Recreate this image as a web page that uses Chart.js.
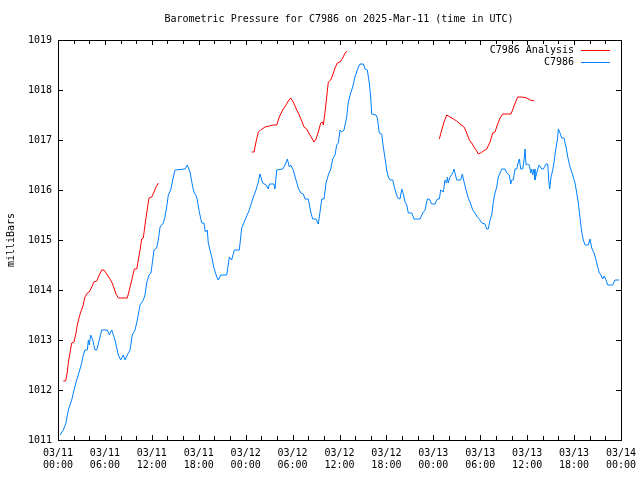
<!DOCTYPE html>
<html>
<head>
<meta charset="utf-8">
<script src="https://cdn.jsdelivr.net/npm/chart.js@4.4.1/dist/chart.umd.min.js"></script>
<style>
html,body{margin:0;padding:0;background:#fff;}
#wrap{width:640px;height:480px;position:relative;}
</style>
</head>
<body>
<div id="wrap"><canvas id="c" width="640" height="480"></canvas></div>
<script>
// Hours since 03/11 00:00 UTC
const observedHours = [0.26,0.68,1.02,1.32,1.75,2.05,2.39,2.6,3.03,3.24,3.45,3.75,3.88,4.0,4.18,4.44,4.73,4.95,5.28,5.59,6.31,6.56,6.87,7.29,7.71,8.02,8.35,8.57,8.86,9.21,9.5,9.85,10.14,10.49,10.91,11.13,11.34,11.64,11.89,12.06,12.28,12.62,12.83,13.05,13.47,13.68,13.9,14.11,14.41,14.67,14.96,16.24,16.54,16.88,17.23,17.39,17.74,18.07,18.38,18.67,18.84,19.09,19.22,19.66,19.95,20.3,20.5,20.81,21.58,21.91,22.21,22.55,23.19,23.49,23.92,24.47,24.77,24.98,25.32,25.62,25.83,26.18,26.6,26.9,27.02,27.62,27.75,27.97,28.74,29.03,29.33,29.58,29.76,30.09,30.44,30.73,31.04,31.37,31.59,32.01,32.32,32.57,32.99,33.29,33.51,33.73,34.02,34.28,34.57,34.88,35.13,35.43,35.64,35.85,36.07,36.28,36.58,36.71,36.92,37.13,37.43,37.69,37.98,38.28,38.53,38.62,39.05,39.26,39.56,39.81,39.99,40.12,40.67,40.84,41.09,41.4,41.6,41.82,42.04,42.24,42.46,42.81,43.01,43.23,43.45,43.74,43.96,44.16,44.38,44.6,44.8,45.24,45.53,46.3,46.64,46.94,47.23,47.49,47.79,48.22,48.51,48.77,48.94,49.28,49.49,49.71,49.79,49.92,50.13,50.48,50.65,50.77,50.99,51.5,51.71,51.93,52.18,52.47,52.78,53.04,53.33,53.63,53.88,54.19,54.61,54.83,55.03,55.25,55.47,55.67,55.89,56.11,56.31,56.53,56.75,57.17,57.39,57.72,57.9,58.03,58.23,58.45,58.67,58.87,59.0,59.18,59.43,59.6,59.73,59.86,60.02,60.28,60.46,60.58,60.71,60.88,61.0,61.22,61.43,61.55,61.86,62.07,62.41,62.63,62.76,62.88,63.05,63.27,63.44,63.66,63.86,63.99,64.2,64.42,64.71,64.97,65.19,65.48,65.83,66.12,66.34,66.54,66.76,66.98,67.18,67.4,67.82,68.04,68.26,68.55,68.81,69.02,69.23,69.44,69.66,69.86,70.08,70.3,70.94,71.23,71.78];
const observedPressure = [1011.1,1011.2,1011.34,1011.6,1011.8,1012.0,1012.2,1012.3,1012.54,1012.7,1012.8,1012.8,1013.0,1012.9,1013.1,1013.0,1012.8,1012.8,1013.0,1013.2,1013.2,1013.1,1013.2,1013.0,1012.7,1012.6,1012.7,1012.6,1012.7,1012.8,1013.1,1013.2,1013.4,1013.7,1013.8,1013.9,1014.14,1014.3,1014.34,1014.54,1014.8,1014.84,1015.0,1015.26,1015.34,1015.46,1015.66,1015.9,1016.0,1016.2,1016.4,1016.42,1016.5,1016.36,1016.06,1015.96,1015.86,1015.56,1015.34,1015.34,1015.16,1015.2,1014.94,1014.66,1014.44,1014.26,1014.2,1014.3,1014.3,1014.66,1014.6,1014.8,1014.8,1015.24,1015.4,1015.6,1015.76,1015.86,1016.0,1016.16,1016.32,1016.14,1016.1,1016.02,1016.12,1016.12,1016.02,1016.4,1016.42,1016.5,1016.62,1016.46,1016.5,1016.4,1016.2,1016.04,1015.94,1015.92,1015.82,1015.82,1015.56,1015.42,1015.42,1015.32,1015.56,1015.82,1015.82,1016.14,1016.3,1016.42,1016.62,1016.7,1016.9,1016.94,1017.2,1017.16,1017.2,1017.3,1017.46,1017.76,1017.94,1018.06,1018.26,1018.4,1018.5,1018.52,1018.52,1018.42,1018.4,1018.14,1017.86,1017.52,1017.5,1017.44,1017.14,1017.12,1016.86,1016.64,1016.4,1016.26,1016.2,1016.2,1016.06,1015.94,1015.84,1015.82,1016.02,1015.92,1015.76,1015.7,1015.54,1015.54,1015.42,1015.42,1015.54,1015.6,1015.82,1015.82,1015.72,1015.72,1015.82,1015.82,1016.0,1015.96,1016.2,1016.14,1016.26,1016.14,1016.26,1016.34,1016.42,1016.42,1016.2,1016.2,1016.32,1016.16,1016.0,1015.84,1015.72,1015.6,1015.54,1015.46,1015.42,1015.34,1015.32,1015.22,1015.22,1015.4,1015.5,1015.76,1015.94,1016.06,1016.26,1016.34,1016.42,1016.42,1016.34,1016.3,1016.12,1016.2,1016.2,1016.42,1016.42,1016.56,1016.62,1016.42,1016.42,1016.6,1016.82,1016.5,1016.52,1016.5,1016.34,1016.42,1016.3,1016.42,1016.2,1016.34,1016.46,1016.5,1016.42,1016.42,1016.52,1016.52,1016.2,1016.02,1016.26,1016.4,1016.56,1016.82,1017.0,1017.22,1017.14,1017.04,1017.04,1016.86,1016.66,1016.46,1016.3,1016.14,1015.94,1015.74,1015.44,1015.16,1015.0,1014.9,1014.9,1015.02,1014.84,1014.74,1014.6,1014.46,1014.34,1014.3,1014.22,1014.28,1014.2,1014.1,1014.1,1014.2,1014.2];

const analysisHours = [0.68,0.98,1.19,1.32,1.53,1.75,2.05,2.3,2.47,2.72,2.9,3.16,3.45,3.75,4.0,4.31,4.6,4.95,5.28,5.59,5.88,6.23,6.56,6.87,7.16,7.42,7.71,8.86,9.12,9.34,9.55,9.76,10.07,10.27,10.49,10.7,10.91,11.13,11.34,11.64,11.98,12.28,12.53,12.83,
  18.0,
  24.77,25.07,25.32,25.62,25.92,26.47,27.02,27.54,27.97,28.3,28.74,29.16,29.45,29.76,30.09,30.53,30.86,31.17,31.46,31.81,32.14,32.45,32.74,33.0,33.29,33.6,33.85,33.93,34.15,34.36,34.57,34.88,35.13,35.43,35.72,36.07,36.41,36.71,37.0,
  43.0,
  48.77,49.07,49.37,49.71,50.13,50.56,50.99,51.41,51.93,52.27,52.6,52.91,53.2,53.55,53.75,54.06,54.39,54.83,55.25,55.6,55.89,56.18,56.53,56.87,57.93,58.23,58.57,58.79,59.3,59.94,60.37,60.92];
const analysisPressure = [1012.18,1012.18,1012.36,1012.54,1012.74,1012.94,1012.96,1013.14,1013.3,1013.46,1013.56,1013.66,1013.86,1013.94,1013.96,1014.06,1014.16,1014.18,1014.3,1014.4,1014.4,1014.32,1014.24,1014.16,1014.04,1013.92,1013.84,1013.84,1014.0,1014.14,1014.28,1014.42,1014.42,1014.6,1014.8,1015.02,1015.04,1015.3,1015.54,1015.84,1015.86,1015.96,1016.06,1016.14,
  null,
  1016.76,1016.76,1016.96,1017.16,1017.2,1017.26,1017.28,1017.3,1017.3,1017.46,1017.6,1017.7,1017.78,1017.84,1017.76,1017.6,1017.5,1017.38,1017.26,1017.22,1017.12,1017.04,1016.96,1017.02,1017.16,1017.34,1017.36,1017.3,1017.56,1017.86,1018.16,1018.2,1018.3,1018.44,1018.54,1018.56,1018.64,1018.74,1018.78,
  null,
  1017.02,1017.2,1017.36,1017.5,1017.46,1017.42,1017.38,1017.32,1017.26,1017.14,1017.0,1016.94,1016.86,1016.78,1016.72,1016.74,1016.78,1016.82,1016.96,1017.14,1017.16,1017.3,1017.44,1017.52,1017.52,1017.64,1017.78,1017.86,1017.86,1017.84,1017.8,1017.78];

const tickDates = ['03/11','03/11','03/11','03/11','03/12','03/12','03/12','03/12','03/13','03/13','03/13','03/13','03/14'];
const tickTimes = ['00:00','06:00','12:00','18:00','00:00','06:00','12:00','18:00','00:00','06:00','12:00','18:00','00:00'];
const seriesNames = ['C7986 Analysis','C7986'];
const seriesColors = ['#ff0000','#0080ff'];
const titleText = 'Barometric Pressure for C7986 on 2025-Mar-11 (time in UTC)';
const yAxisLabel = 'milliBars';

const FONT = '10px "DejaVu Sans Mono", monospace';

const toPoints = (xs, ys) => xs.map((x, i) => ({x: x, y: ys[i]}));

const decor = {
  id: 'decor',
  afterDraw(chart) {
    const ctx = chart.ctx;
    const a = chart.chartArea;
    const xs = chart.scales.x, ys = chart.scales.y;
    ctx.save();
    ctx.strokeStyle = '#000';
    ctx.lineWidth = 1;
    // frame
    ctx.strokeRect(Math.round(a.left) + 0.5, Math.round(a.top) + 0.5, Math.round(a.right - a.left), Math.round(a.bottom - a.top));
    ctx.beginPath();
    // x ticks every 2 hours, inward on bottom and top
    for (let h = 2; h < 72; h += 2) {
      const px = Math.round(xs.getPixelForValue(h)) + 0.5;
      const len = (h % 6 === 0) ? 5 : 4;
      ctx.moveTo(px, a.bottom); ctx.lineTo(px, a.bottom - len);
      ctx.moveTo(px, a.top); ctx.lineTo(px, a.top + len);
    }
    // y ticks every 1 mb, inward on left and right
    for (let v = 1012; v < 1019; v++) {
      const py = Math.round(ys.getPixelForValue(v)) + 0.5;
      ctx.moveTo(a.left, py); ctx.lineTo(a.left + 5, py);
      ctx.moveTo(a.right, py); ctx.lineTo(a.right - 5, py);
    }
    ctx.stroke();

    ctx.fillStyle = '#000';
    ctx.font = FONT;
    // title
    ctx.textAlign = 'center';
    ctx.textBaseline = 'middle';
    ctx.fillText(titleText, 339, 19);
    // y label
    ctx.save();
    ctx.translate(11, 240);
    ctx.rotate(-Math.PI / 2);
    ctx.fillText(yAxisLabel, 0, 0);
    ctx.restore();
    // legend
    ctx.textAlign = 'right';
    const rows = [50, 62];
    chart.data.datasets.forEach((ds, i) => {
      ctx.fillStyle = '#000';
      ctx.fillText(ds.label, 574, rows[i] + 0.5);
      ctx.strokeStyle = ds.borderColor;
      ctx.beginPath();
      ctx.moveTo(581, rows[i] + 0.5);
      ctx.lineTo(610, rows[i] + 0.5);
      ctx.stroke();
    });
    ctx.restore();
  }
};

new Chart(document.getElementById('c'), {
  type: 'line',
  data: {
    datasets: [
      {label: seriesNames[0], data: toPoints(analysisHours, analysisPressure), borderColor: seriesColors[0], backgroundColor: seriesColors[0], borderWidth: 1, pointRadius: 0, tension: 0, spanGaps: false},
      {label: seriesNames[1], data: toPoints(observedHours, observedPressure), borderColor: seriesColors[1], backgroundColor: seriesColors[1], borderWidth: 1, pointRadius: 0, tension: 0, spanGaps: false}
    ]
  },
  options: {
    responsive: false,
    animation: false,
    devicePixelRatio: 1,
    layout: {padding: {top: 40, right: 19, left: 0, bottom: 0}},
    plugins: {legend: {display: false}, title: {display: false}, tooltip: {enabled: false}},
    scales: {
      x: {
        type: 'linear', min: 0, max: 72,
        grid: {display: false, drawTicks: false},
        border: {display: false},
        ticks: {
          stepSize: 6, autoSkip: false, maxRotation: 0, padding: 8, color: '#000',
          font: {family: '"DejaVu Sans Mono", monospace', size: 10, lineHeight: 1.15},
          callback: (v) => { const i = Math.round(v / 6); return [tickDates[i], tickTimes[i]]; }
        },
        afterFit: (s) => { s.height = 40; s.paddingLeft = 0; s.paddingRight = 0; }
      },
      y: {
        min: 1011, max: 1019,
        grid: {display: false, drawTicks: false},
        border: {display: false},
        ticks: {
          stepSize: 1, padding: 6, color: '#000',
          font: {family: '"DejaVu Sans Mono", monospace', size: 10},
          callback: (v) => String(v)
        },
        afterFit: (s) => { s.width = 58; s.paddingTop = 0; s.paddingBottom = 0; }
      }
    }
  },
  plugins: [decor]
});
</script>
</body>
</html>
